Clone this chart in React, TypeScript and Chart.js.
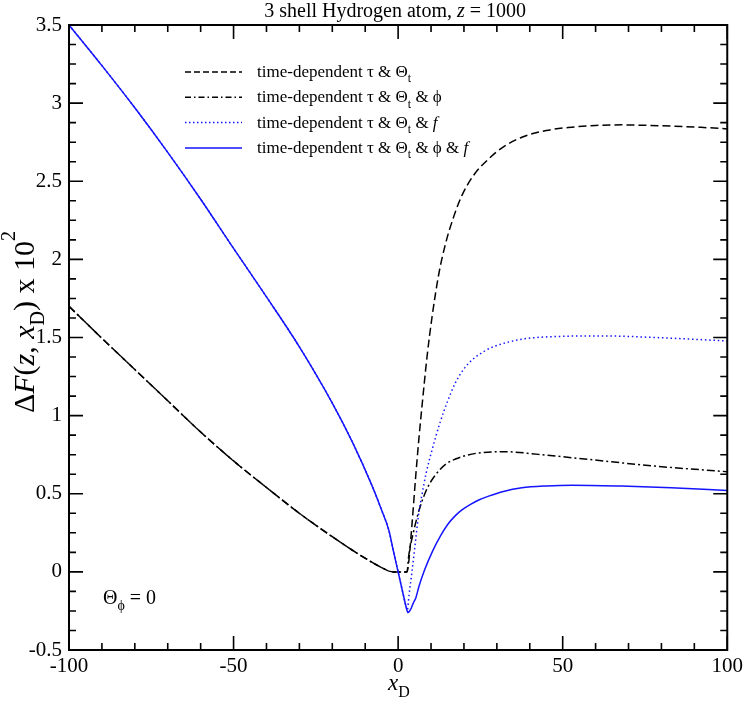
import React, { useEffect, useRef } from "react";
import { Chart, registerables } from "chart.js";
Chart.register(...registerables);

const SERIF = '"Liberation Serif", "Times New Roman", "DejaVu Serif", serif';

// ---- axis ranges and tick labels ----
const X_MIN = -100;
const X_MAX = 100;
const Y_MIN = -0.5;
const Y_MAX = 3.5;
const xMajorTicks = [-100, -50, 0, 50, 100];
const yMajorTicks = [-0.5, 0, 0.5, 1, 1.5, 2, 2.5, 3, 3.5];
const X_MINOR_STEP = 10;
const Y_MINOR_STEP = 0.125;

// ---- series: time-dependent tau & Theta_t (black dashed) ----
const xTT = [-100, -90, -80, -70, -60, -50, -40, -30, -20, -14, -8, -5, -2.8, -1.5, 0, 2.7, 3.2, 4.2, 5.3, 6.3, 7.3, 8.8, 10.3, 12.3, 14.4, 17, 19.4, 23, 27.5, 32, 37.6, 45, 52.8, 60, 67.9, 75, 83, 92, 100];
const yTT = [1.70, 1.495, 1.295, 1.095, 0.895, 0.71, 0.54, 0.375, 0.225, 0.14, 0.062, 0.027, 0.005, 0, 0, 0, 0.06, 0.3, 0.6, 0.85, 1.07, 1.38, 1.63, 1.9, 2.1, 2.28, 2.41, 2.54, 2.643, 2.72, 2.782, 2.825, 2.846, 2.857, 2.861, 2.858, 2.853, 2.845, 2.835];

// ---- series: tau & Theta_t & phi (black dash-dot) ----
const xTTP = [-100, -90, -80, -70, -60, -50, -40, -30, -20, -14, -8, -5, -2.8, -1.5, 0, 2.7, 3.2, 4.5, 6.3, 8.3, 10, 12.3, 14.5, 17.4, 21, 24.5, 32.5, 42.6, 57.8, 78, 100];
const yTTP = [1.70, 1.495, 1.295, 1.095, 0.895, 0.71, 0.54, 0.375, 0.225, 0.14, 0.062, 0.027, 0.005, 0, 0, 0, 0.1, 0.24, 0.39, 0.51, 0.58, 0.645, 0.69, 0.722, 0.747, 0.761, 0.769, 0.752, 0.72, 0.677, 0.641];

// ---- series: tau & Theta_t & f (blue dotted) ----
const xTTF = [-100, -90, -80, -70, -60, -50, -40, -30, -20, -14, -8, -5, -2.8, -1.5, 0, 1.5, 2.5, 2.8, 3.3, 4.2, 5.3, 6.3, 7.3, 8.5, 10.3, 12.8, 15, 17.4, 20, 22.4, 26, 29.5, 37.6, 47.7, 62.8, 78, 100];
const yTTF = [3.50, 3.24, 2.97, 2.685, 2.385, 2.07, 1.76, 1.44, 1.08, 0.835, 0.555, 0.395, 0.265, 0.14, 0.0, -0.14, -0.23, -0.245, -0.15, 0.0, 0.2, 0.38, 0.5, 0.63, 0.78, 0.96, 1.09, 1.21, 1.30, 1.355, 1.41, 1.445, 1.489, 1.506, 1.51, 1.5, 1.478];

// ---- series: tau & Theta_t & phi & f (blue solid) ----
const xAll = [-100, -90, -80, -70, -60, -50, -40, -30, -20, -14, -8, -5, -2.8, -1.5, 0, 1.5, 2.5, 3.0, 3.8, 4.6, 5.4, 6.3, 8, 10.4, 13, 15, 17.4, 19.5, 22, 24.5, 27.5, 32, 37.6, 45, 52.8, 67.9, 83, 100];
const yAll = [3.50, 3.24, 2.97, 2.685, 2.385, 2.07, 1.76, 1.44, 1.08, 0.835, 0.555, 0.395, 0.265, 0.14, 0.0, -0.14, -0.23, -0.26, -0.24, -0.2, -0.165, -0.095, 0.01, 0.13, 0.235, 0.302, 0.36, 0.398, 0.432, 0.46, 0.485, 0.515, 0.538, 0.55, 0.555, 0.549, 0.538, 0.521];

type Seg = { t: string; italic?: boolean; sub?: boolean; sup?: boolean };

const LEGEND_BASE: Seg[] = [{ t: "time-dependent \u03c4 & \u0398" }, { t: "t", sub: true }];
const legendItems: { segs: Seg[]; color: string; dash: number[] }[] = [
  { segs: [...LEGEND_BASE], color: "#000000", dash: [6, 3] },
  { segs: [...LEGEND_BASE, { t: " & \u03d5" }], color: "#000000", dash: [6, 3, 1.5, 3] },
  { segs: [...LEGEND_BASE, { t: " & " }, { t: "f", italic: true }], color: "#1414ff", dash: [1.5, 2.5] },
  { segs: [...LEGEND_BASE, { t: " & \u03d5 & " }, { t: "f", italic: true }], color: "#1414ff", dash: [] },
];

function fontFor(s: Seg, size: number) {
  const sz = s.sub || s.sup ? Math.round(size * 0.68) : size;
  return `${s.italic ? "italic " : ""}${sz}px ${SERIF}`;
}

function richWidth(ctx: CanvasRenderingContext2D, segs: Seg[], size: number) {
  let w = 0;
  for (const s of segs) {
    ctx.font = fontFor(s, size);
    w += ctx.measureText(s.t).width;
  }
  return w;
}

function drawRich(ctx: CanvasRenderingContext2D, segs: Seg[], x: number, y: number, size: number, align: "left" | "center") {
  const total = richWidth(ctx, segs, size);
  let cx = align === "center" ? x - total / 2 : x;
  ctx.textAlign = "left";
  ctx.textBaseline = "alphabetic";
  for (const s of segs) {
    ctx.font = fontFor(s, size);
    const dy = s.sub ? size * 0.32 : s.sup ? -size * 0.62 : 0;
    ctx.fillText(s.t, cx, y + dy);
    cx += ctx.measureText(s.t).width;
  }
}

const framePlugin = {
  id: "framePlugin",
  afterDraw(chart: any) {
    const ctx: CanvasRenderingContext2D = chart.ctx;
    const { left, right, top, bottom } = chart.chartArea;
    const xs = chart.scales.x;
    const ys = chart.scales.y;
    ctx.save();
    ctx.strokeStyle = "#000";
    ctx.fillStyle = "#000";
    ctx.setLineDash([]);
    // ticks (inward, all four sides)
    ctx.lineWidth = 1.6;
    const MAJ = 14;
    const MIN = 7;
    ctx.beginPath();
    for (let v = X_MIN; v <= X_MAX + 1e-9; v += X_MINOR_STEP) {
      const px = xs.getPixelForValue(v);
      const len = xMajorTicks.includes(v) ? MAJ : MIN;
      ctx.moveTo(px, bottom);
      ctx.lineTo(px, bottom - len);
      ctx.moveTo(px, top);
      ctx.lineTo(px, top + len);
    }
    for (let v = Y_MIN; v <= Y_MAX + 1e-9; v += Y_MINOR_STEP) {
      const py = ys.getPixelForValue(v);
      const isMaj = yMajorTicks.some((m) => Math.abs(m - v) < 1e-6);
      const len = isMaj ? MAJ : MIN;
      ctx.moveTo(left, py);
      ctx.lineTo(left + len, py);
      ctx.moveTo(right, py);
      ctx.lineTo(right - len, py);
    }
    ctx.stroke();
    // frame
    ctx.lineWidth = 2;
    ctx.strokeRect(left, top, right - left, bottom - top);

    // legend
    const rowY = [72, 97.3, 122.6, 148];
    legendItems.forEach((it, i) => {
      const y = rowY[i];
      ctx.strokeStyle = it.color;
      ctx.lineWidth = 1.5;
      ctx.setLineDash(it.dash);
      ctx.beginPath();
      ctx.moveTo(185, y);
      ctx.lineTo(242, y);
      ctx.stroke();
      ctx.setLineDash([]);
      ctx.fillStyle = "#000";
      drawRich(ctx, it.segs, 257, y + 5, 17, "left");
    });

    // title
    ctx.fillStyle = "#000";
    drawRich(ctx, [{ t: "3 shell Hydrogen atom, " }, { t: "z", italic: true }, { t: " = 1000" }], (left + right) / 2 - 3, 17, 20, "center");

    // annotation
    drawRich(ctx, [{ t: "\u0398" }, { t: "\u03d5", sub: true }, { t: " = 0" }], 103, 604, 20, "left");

    // x-axis title
    drawRich(ctx, [{ t: "x", italic: true }, { t: "D", sub: true }], 388, 690, 23, "left");

    // y-axis title
    ctx.save();
    ctx.translate(34, 322);
    ctx.rotate(-Math.PI / 2);
    drawRich(
      ctx,
      [
        { t: "\u0394" },
        { t: "F", italic: true },
        { t: "(" },
        { t: "z", italic: true },
        { t: ", " },
        { t: "x", italic: true },
        { t: "D", sub: true },
        { t: ") x 10" },
        { t: "2", sup: true },
      ],
      0,
      0,
      30,
      "center"
    );
    ctx.restore();
    ctx.restore();
  },
};

function toPoints(xs: number[], ys: number[]) {
  return xs.map((x, i) => ({ x, y: ys[i] }));
}

export default function App() {
  const ref = useRef<HTMLCanvasElement | null>(null);
  useEffect(() => {
    if (!ref.current) return;
    const tickFont = { family: SERIF, size: 21 };
    const chart = new Chart(ref.current, {
      type: "line",
      data: {
        datasets: [
          { label: "tt", data: toPoints(xTT, yTT), borderColor: "#000", borderWidth: 1.5, borderDash: [8, 4], order: 4 },
          { label: "ttp", data: toPoints(xTTP, yTTP), borderColor: "#000", borderWidth: 1.5, borderDash: [8, 3, 2, 3], order: 3 },
          { label: "ttf", data: toPoints(xTTF, yTTF), borderColor: "#1414ff", borderWidth: 1.5, borderDash: [1.5, 2.8], order: 2 },
          { label: "all", data: toPoints(xAll, yAll), borderColor: "#1414ff", borderWidth: 1.5, order: 1 },
        ] as any,
      },
      options: {
        responsive: false,
        animation: false,
        parsing: false as any,
        layout: { padding: { top: 25, right: 17.5, left: 0, bottom: 0 } },
        elements: {
          point: { radius: 0 },
          line: { tension: 0, cubicInterpolationMode: "monotone", fill: false },
        },
        plugins: {
          legend: { display: false },
          title: { display: false },
          tooltip: { enabled: false },
        },
        scales: {
          x: {
            type: "linear",
            min: X_MIN,
            max: X_MAX,
            grid: { display: false, drawTicks: false },
            border: { display: false },
            afterBuildTicks: (s: any) => {
              s.ticks = xMajorTicks.map((v) => ({ value: v }));
            },
            afterFit: (s: any) => {
              s.height = 52;
            },
            ticks: {
              font: tickFont,
              color: "#000",
              padding: 4,
              maxRotation: 0,
              autoSkip: false,
              callback: (v: any) => String(v),
            },
          },
          y: {
            type: "linear",
            min: Y_MIN,
            max: Y_MAX,
            grid: { display: false, drawTicks: false },
            border: { display: false },
            afterBuildTicks: (s: any) => {
              s.ticks = yMajorTicks.map((v) => ({ value: v }));
            },
            afterFit: (s: any) => {
              s.width = 69;
            },
            ticks: {
              font: tickFont,
              color: "#000",
              padding: 7,
              autoSkip: false,
              callback: (v: any) => String(v),
            },
          },
        },
      } as any,
      plugins: [framePlugin],
    });
    return () => chart.destroy();
  }, []);
  return (
    <div style={{ position: "fixed", left: 0, top: 0, width: 747, height: 702, background: "#fff" }}>
      <canvas ref={ref} width={747} height={702} style={{ display: "block" }} />
    </div>
  );
}
